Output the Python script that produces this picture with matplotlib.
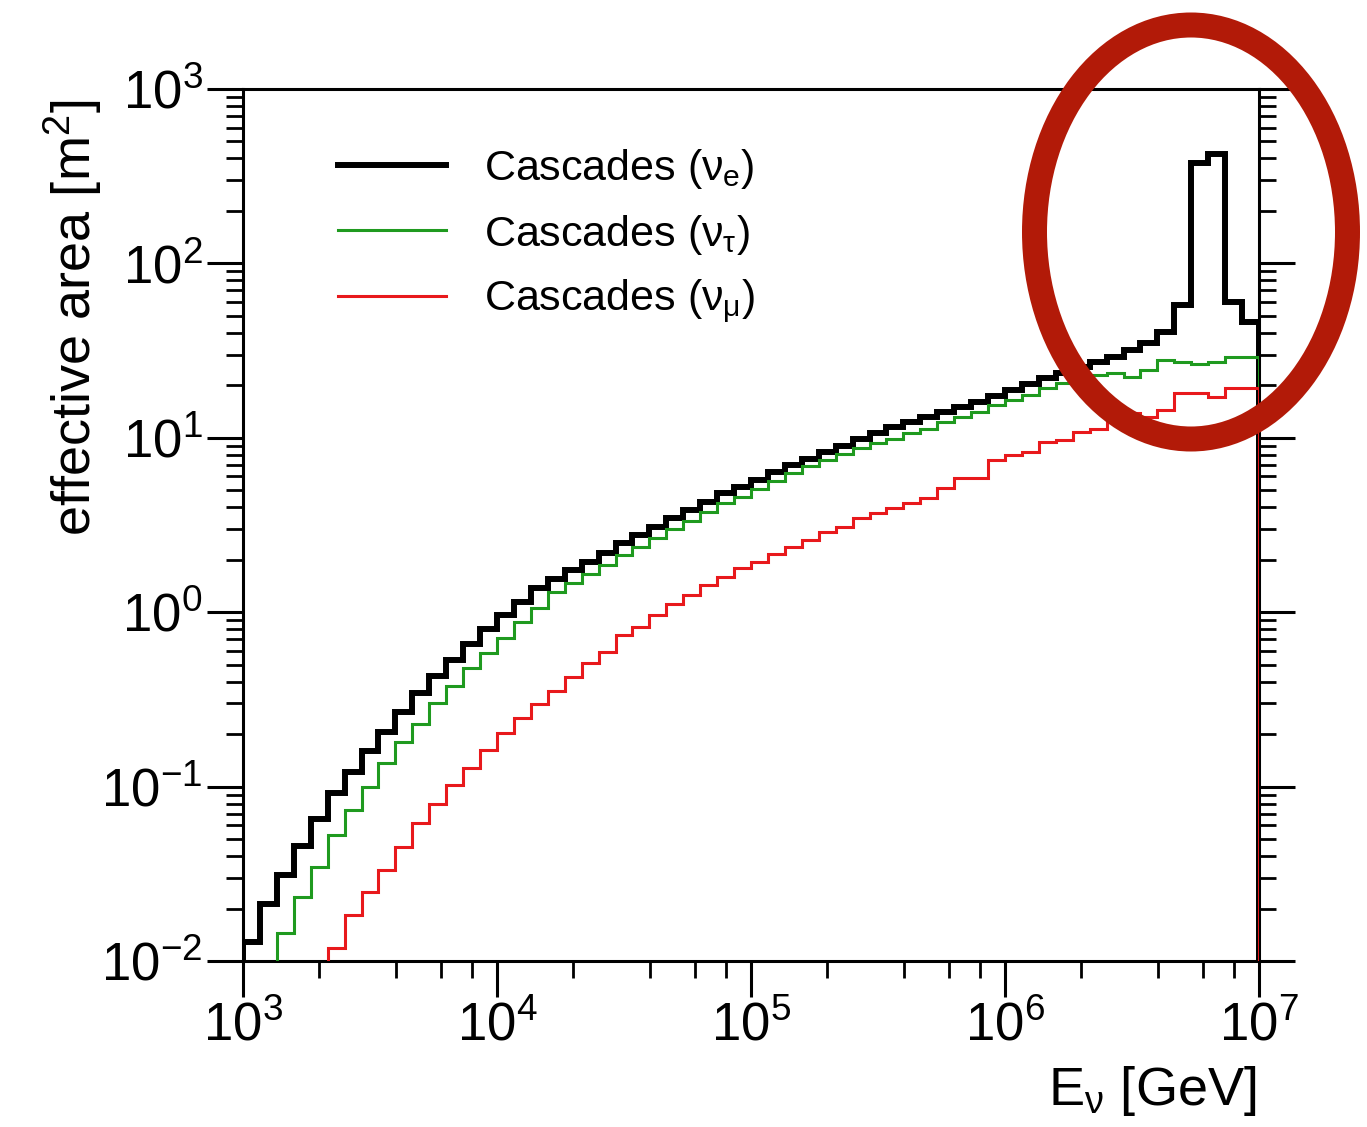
import numpy as np
import matplotlib
matplotlib.use("Agg")
import matplotlib.pyplot as plt
from matplotlib.ticker import LogLocator, NullFormatter
from matplotlib.patches import Ellipse

plt.rcParams['font.family'] = ['Liberation Sans', 'DejaVu Sans']
plt.rcParams['mathtext.fontset'] = 'custom'
plt.rcParams['mathtext.rm'] = 'Liberation Sans'
plt.rcParams['mathtext.it'] = 'Liberation Sans'
plt.rcParams['mathtext.bf'] = 'Liberation Sans:bold'

# energy bins: 15 per decade, 1e3 .. 1e7 GeV
edges = np.logspace(3, 7, 61)

# effective area [m^2] per bin
nu_e = [0.0129, 0.0212, 0.031, 0.0456, 0.065, 0.092, 0.122, 0.159, 0.206, 0.269,
        0.343, 0.43, 0.532, 0.66, 0.80, 0.96, 1.15, 1.37, 1.56, 1.75,
        1.95, 2.18, 2.48, 2.77, 3.09, 3.45, 3.85, 4.30, 4.81, 5.20,
        5.73, 6.39, 7.0, 7.6, 8.3, 9.0, 9.8, 10.6, 11.5, 12.3,
        13.2, 14.1, 15.1, 16.1, 17.4, 18.7, 20.3, 21.9, 23.4, 25.6,
        27.3, 29.2, 31.9, 34.8, 40.6, 57.7, 375, 424, 60.3, 46.4]

nu_tau = [0.004, 0.007, 0.0144, 0.0234, 0.0348, 0.0527, 0.0734, 0.100, 0.136, 0.181,
          0.229, 0.30, 0.378, 0.477, 0.58, 0.71, 0.88, 1.06, 1.31, 1.48,
          1.66, 1.86, 2.13, 2.38, 2.67, 3.00, 3.35, 3.76, 4.23, 4.58,
          5.07, 5.69, 6.3, 6.9, 7.5, 8.1, 8.7, 9.3, 9.9, 10.6,
          11.3, 12.4, 13.2, 14.1, 15.4, 16.5, 17.6, 19.4, 20.5, 21.0,
          22.9, 23.4, 22.4, 24.5, 27.9, 27.3, 26.5, 27.3, 29.2, 29.2]

nu_mu = [0.0015, 0.0025, 0.004, 0.0058, 0.0083, 0.0118, 0.0184, 0.025, 0.0332, 0.0452,
         0.0616, 0.079, 0.102, 0.127, 0.162, 0.202, 0.249, 0.298, 0.355, 0.427,
         0.513, 0.594, 0.740, 0.826, 0.964, 1.12, 1.26, 1.43, 1.60, 1.79,
         1.95, 2.16, 2.38, 2.60, 2.90, 3.09, 3.45, 3.69, 3.94, 4.21,
         4.50, 5.13, 5.86, 5.86, 7.46, 7.96, 8.32, 9.5, 9.7, 10.8,
         11.3, 12.6, 13.8, 13.2, 14.4, 18.1, 18.0, 17.2, 19.2, 19.2]

labels = [r'Cascades ($\nu_{e}$)', r'Cascades ($\nu_{\tau}$)', r'Cascades ($\nu_{\mu}$)']

fig = plt.figure(figsize=(13.67, 11.27), dpi=100)
ax = fig.add_axes([243/1367, 1-961/1127, 1016/1367, 872/1127])

ax.stairs(nu_e, edges, baseline=1e-5, color='black', lw=4.3, zorder=3, label=labels[0])
ax.stairs(nu_tau, edges, baseline=1e-5, color='#1f9a1f', lw=2.2, zorder=3, label=labels[1])
ax.stairs(nu_mu, edges, baseline=1e-5, color='#e8191c', lw=2.2, zorder=3, label=labels[2])

ax.set_xscale('log')
ax.set_yscale('log')
ax.set_xlim(1e3, 1e7)
ax.set_ylim(1e-2, 1e3)

ax.xaxis.set_major_locator(LogLocator(base=10, numticks=10))
ax.xaxis.set_minor_locator(LogLocator(base=10, subs=(2, 4, 6, 8), numticks=10))
ax.yaxis.set_major_locator(LogLocator(base=10, numticks=10))
ax.yaxis.set_minor_locator(LogLocator(base=10, subs=np.arange(2, 10), numticks=10))
ax.xaxis.set_minor_formatter(NullFormatter())
ax.yaxis.set_minor_formatter(NullFormatter())

for s in ax.spines.values():
    s.set_linewidth(2.2)

ax.tick_params(which='both', direction='out', left=True, right=True, top=False, bottom=True)
ax.tick_params(which='major', length=26, width=2.2, labelsize=38, pad=3)
ax.tick_params(which='minor', length=12, width=2.0)

ax.set_ylabel(r'effective area [m$^{2}$]', fontsize=39)
ax.yaxis.set_label_coords(-0.137, 0.738)
ax.set_xlabel(r'E$_{\nu}$ [GeV]', fontsize=39, loc='right')
ax.xaxis.set_label_coords(0.997, -0.118)

leg = ax.legend(loc='upper left', bbox_to_anchor=(0.0935, 0.933), frameon=False,
                fontsize=31, handlelength=2.5, handletextpad=0.9, labelspacing=0.49,
                borderpad=0, borderaxespad=0)

# red highlight ellipse drawn over the figure
ell = Ellipse((1191/1367, 1-232/1127), 313/1367, 414/1127, transform=fig.transFigure,
              fill=False, edgecolor='#b21a08', lw=18, clip_on=False, zorder=10)
fig.add_artist(ell)

fig.savefig('out.png', dpi=100)
